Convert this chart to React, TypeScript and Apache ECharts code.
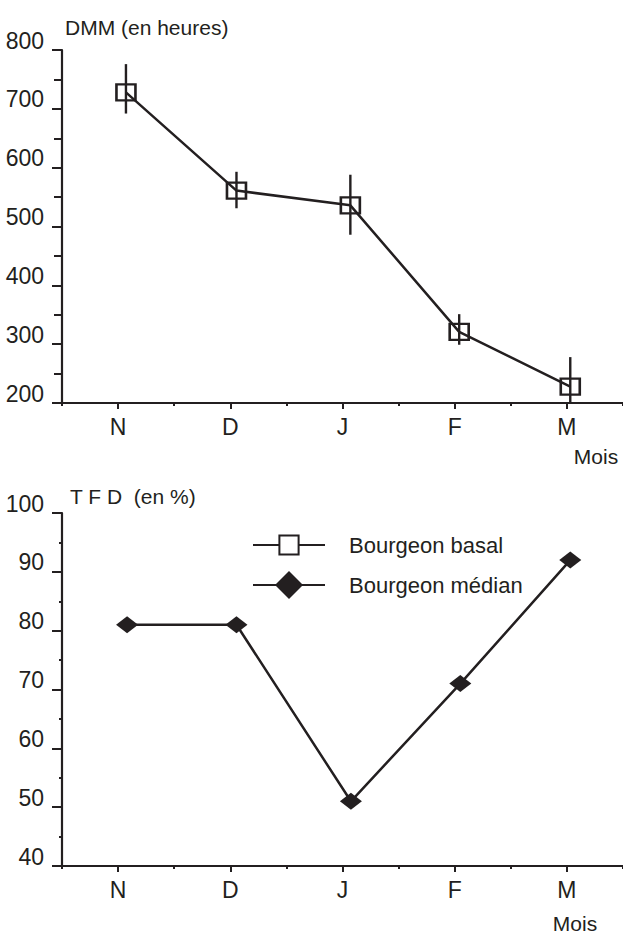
import React, { useEffect, useRef } from "react";
import * as echarts from "echarts";

const months = ["N", "D", "J", "F", "M"];
// position of each sampling inside its month band (month index)
const monthPos = [1.07, 2.055, 3.07, 4.04, 5.03];
const dmm = [728, 561, 536, 321, 228];
const dmmLow = [692, 531, 486, 299, 178];
const dmmHigh = [776, 593, 588, 351, 278];
const tfdPos = [1.08, 2.055, 3.075, 4.05, 5.03];
const tfd = [81, 81, 51, 71, 92];
const dmmTicks = { min: 200, max: 800, interval: 100 };
const tfdTicks = { min: 40, max: 100, interval: 10 };

const INK = "#231f20";
const FONT = "'Liberation Sans Narrow', 'Arial Narrow', 'Liberation Sans', Arial, sans-serif";
const FS = 23;

export default function App() {
  const ref = useRef<HTMLDivElement>(null);
  useEffect(() => {
    if (!ref.current) return;
    const chart = echarts.init(ref.current, undefined, { renderer: "svg" });

    const grids = [
      { left: 62, top: 50, width: 566, height: 353 },
      { left: 62, top: 513, width: 566, height: 353 },
    ];

    const catAxis = (g: number) => ({
      type: "category",
      gridIndex: g,
      data: months,
      boundaryGap: true,
      position: "bottom",
      axisLine: { show: true, onZero: false, lineStyle: { color: INK, width: 2.2 } },
      axisTick: { show: true, alignWithLabel: true, length: 6, lineStyle: { color: INK, width: 2 } },
      axisLabel: { color: INK, fontSize: FS, fontFamily: FONT, margin: 12 },
      splitLine: { show: false },
    });
    const minorCatAxis = (g: number) => ({
      type: "category",
      gridIndex: g,
      data: months,
      boundaryGap: true,
      position: "bottom",
      axisLine: { show: false, onZero: false },
      axisTick: { show: true, alignWithLabel: false, length: 3, lineStyle: { color: INK, width: 2 } },
      axisLabel: { show: false },
      splitLine: { show: false },
    });
    const valX = (g: number) => ({
      type: "value",
      gridIndex: g,
      min: 0.5,
      max: 5.5,
      show: false,
      splitLine: { show: false },
    });

    const yAx = (g: number, t: any, name: string, gap: number, padL: number, minorLen: number) => ({
      type: "value",
      gridIndex: g,
      min: t.min,
      max: t.max,
      interval: t.interval,
      name,
      nameLocation: "end",
      nameGap: gap,
      nameTextStyle: {
        color: INK,
        fontSize: 21,
        fontFamily: FONT,
        align: "left",
        verticalAlign: "bottom",
        padding: [0, 0, 0, padL],
      },
      axisLine: { show: true, onZero: false, lineStyle: { color: INK, width: 2.2 } },
      axisTick: { show: true, length: 10, lineStyle: { color: INK, width: 2 } },
      minorTick: { show: true, splitNumber: 2, length: minorLen, lineStyle: { color: INK, width: 2 } },
      axisLabel: {
        color: INK,
        fontSize: FS,
        fontFamily: FONT,
        margin: 18,
        verticalAlign: "bottom",
        lineHeight: 19,
      },
      splitLine: { show: false },
      minorSplitLine: { show: false },
    });

    const legendBase = {
      left: 252,
      orient: "vertical",
      itemWidth: 72,
      padding: 0,
      selectedMode: false,
      textStyle: { color: INK, fontSize: 22, fontFamily: FONT, padding: [0, 0, 0, 19] },
    };

    const moisStyle = {
      fill: INK,
      font: `21px ${FONT}`,
      textAlign: "center",
      textVerticalAlign: "middle",
    };

    chart.setOption({
      animation: false,
      backgroundColor: "#ffffff",
      grid: grids,
      xAxis: [catAxis(0), minorCatAxis(0), valX(0), catAxis(1), minorCatAxis(1), valX(1)],
      yAxis: [
        yAx(0, dmmTicks, "DMM (en heures)", 12, 3, 8),
        yAx(1, tfdTicks, "T F D  (en %)", 6, 8, 3),
      ],
      legend: [
        {
          ...legendBase,
          top: 534,
          itemHeight: 24,
          data: [{ name: "Bourgeon basal", itemStyle: { color: "#ffffff" } }],
        },
        {
          ...legendBase,
          top: 571,
          itemHeight: 35,
          data: [{ name: "Bourgeon médian" }],
        },
      ],
      graphic: [
        { type: "text", x: 596, y: 456, style: { text: "Mois", ...moisStyle } },
        { type: "text", x: 575, y: 923, style: { text: "Mois", ...moisStyle } },
      ],
      series: [
        {
          name: "erreur DMM",
          type: "custom",
          xAxisIndex: 2,
          yAxisIndex: 0,
          clip: true,
          data: monthPos.map((p, i) => [p, dmmLow[i], dmmHigh[i]]),
          encode: { x: 0, y: [1, 2] },
          renderItem: (params: any, api: any) => {
            const x = api.value(0);
            const a = api.coord([x, api.value(1)]);
            const b = api.coord([x, api.value(2)]);
            return {
              type: "line",
              shape: { x1: a[0], y1: a[1], x2: b[0], y2: b[1] },
              style: { stroke: INK, lineWidth: 2.4 },
            };
          },
          z: 1,
        },
        {
          name: "Bourgeon basal",
          type: "line",
          xAxisIndex: 2,
          yAxisIndex: 0,
          data: monthPos.map((p, i) => [p, dmm[i]]),
          symbol: "rect",
          symbolSize: [19, 16],
          showAllSymbol: true,
          lineStyle: { color: INK, width: 2.5 },
          itemStyle: { color: "rgba(255,255,255,0)", borderColor: INK, borderWidth: 2.4 },
          z: 2,
        },
        {
          name: "Bourgeon médian",
          type: "line",
          xAxisIndex: 5,
          yAxisIndex: 1,
          data: tfdPos.map((p, i) => [p, tfd[i]]),
          symbol: "diamond",
          symbolSize: [22, 17],
          showAllSymbol: true,
          lineStyle: { color: INK, width: 2.5 },
          itemStyle: { color: INK },
          z: 2,
        },
      ],
    });
    return () => chart.dispose();
  }, []);
  return (
    <div
      ref={ref}
      style={{ position: "absolute", left: 0, top: 0, width: 623, height: 936, background: "#fff" }}
    />
  );
}
